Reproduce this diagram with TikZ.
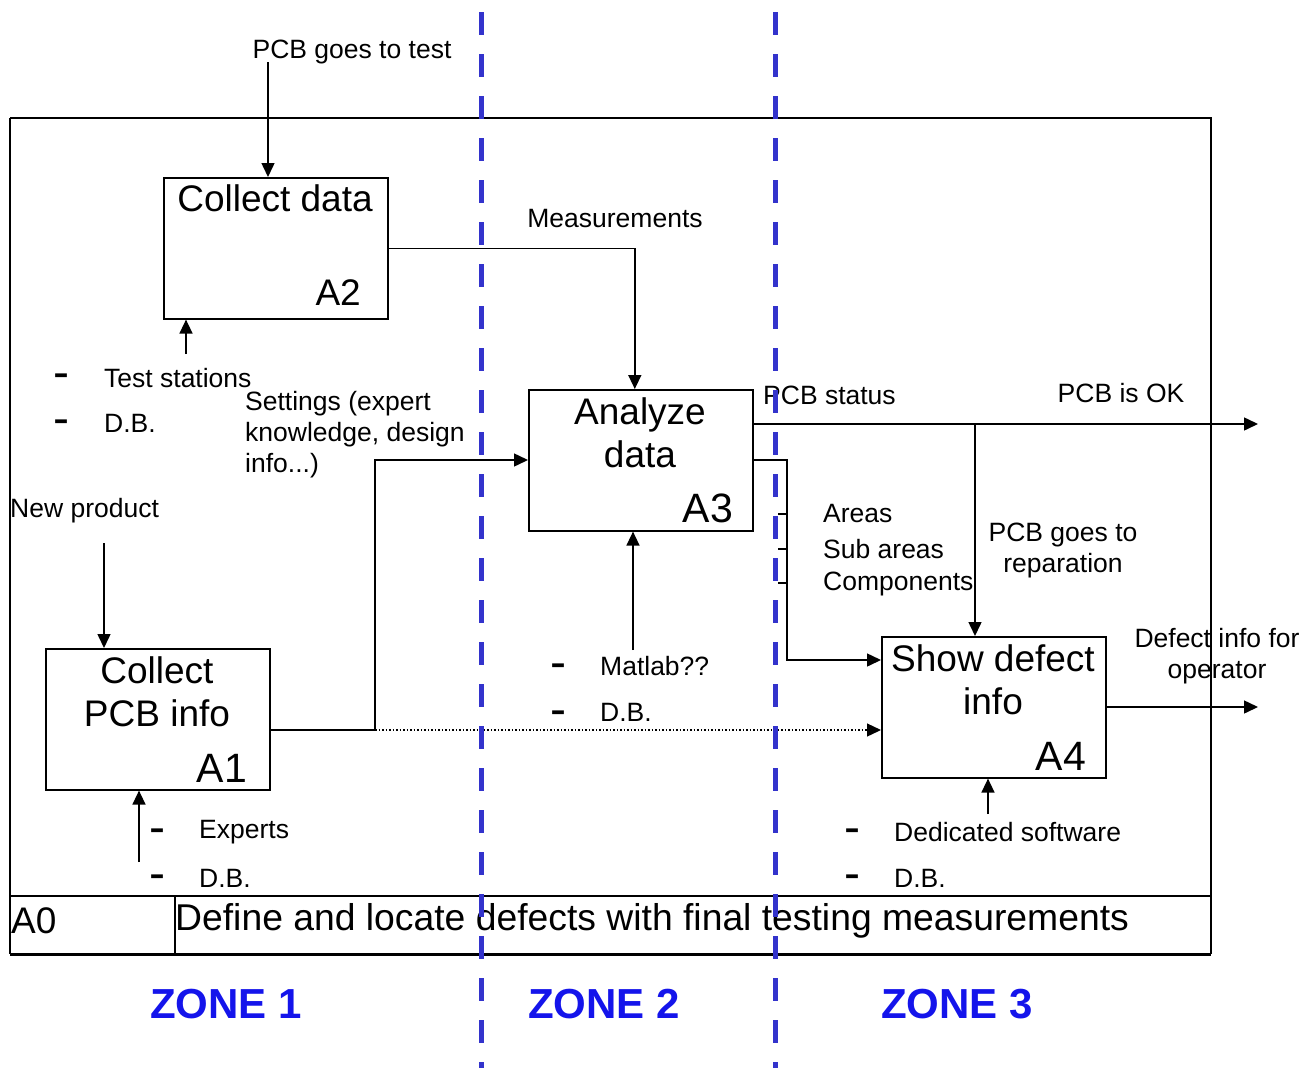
\documentclass[tikz,border=0pt]{standalone}
\usepackage{fontspec}
\setmainfont{Liberation Sans}
\usetikzlibrary{arrows.meta,calc}
\definecolor{zoneline}{RGB}{51,51,204}
\definecolor{zonetext}{RGB}{20,20,235}
\begin{document}
\begin{tikzpicture}[x=1pt,y=-1pt,
  box/.style={draw,line width=1.6pt,rectangle,minimum width=224pt,minimum height=141pt,anchor=north west,inner sep=0pt},
  conn/.style={line width=1.5pt},
  arr/.style={conn,-{Triangle[length=14pt,width=13pt]}},
  small/.style={font=\fontsize{26.5}{31}\selectfont,inner sep=0pt},
  big/.style={font=\fontsize{37}{43}\selectfont,inner sep=0pt},
  bignum/.style={font=\fontsize{41}{47}\selectfont,inner sep=0pt},
  bul/.style={font=\fontsize{48}{52}\selectfont,inner sep=0pt,anchor=base west},
  zone/.style={font=\fontsize{42}{48}\selectfont\bfseries,text=zonetext,inner sep=0pt},
  zonedash/.style={draw=zoneline,line width=5pt,dash pattern=on 23pt off 19pt}
]
\useasboundingbox (0,0) rectangle (1315,1068);

% frame
\draw[line width=1.6pt] (10,118) -- (1211,118) -- (1211,954);
\draw[line width=1.6pt] (10,118) -- (10,954);
\draw[line width=3pt] (10,954) -- (1211,954);
\draw[line width=1.6pt] (10,896) -- (1211,896);
\draw[line width=1.6pt] (175,896) -- (175,954);

% boxes
\node[box] (a2) at (163,177) {};
\node[box] (a3) at (528,389) {};
\node[box] (a1) at (45,648) {};
\node[box] (a4) at (881,636) {};

% box texts
\node[big] (t2) at (275,198) {Collect data};
\node[big,anchor=east] (n2) at (361,293) {A2};
\node[big,align=center] (t3) at (640,433) {Analyze\\data};
\node[bignum,anchor=east] (n3) at (733,508) {A3};
\node[big,align=center] (t1) at (157,692) {Collect\\PCB info};
\node[bignum,anchor=east] (n1) at (247,768) {A1};
\node[big,align=center] (t4) at (993,680) {Show defect\\info};
\node[bignum,anchor=east] (n4) at (1086,756) {A4};

% A2 input
\coordinate (in2) at (268,62);
\node[small] (l-test) at (352,52) {PCB goes to test};
\draw[arr] (in2) -- (in2 |- a2.north);

% A2 mechanism
\coordinate (m2) at (186,354);
\draw[arr] (m2) -- (m2 |- a2.south);
\node[bul] (d21) at (53,388) {-};
\node[small,anchor=west] (l21) at (104,378) {Test stations};
\node[bul] (d22) at (53,434) {-};
\node[small,anchor=west] (l22) at (104,423) {D.B.};

% Measurements
\draw[arr] (a2.east) -| ([xshift=-6pt]a3.north);
\node[small] (l-meas) at (615,219) {Measurements};

% Settings
\coordinate (j1) at (375,730);
\draw[conn] (a1.east |- j1) -- (j1);
\draw[arr] (j1) |- (a3.west |- 0,460);
\node[small,anchor=north west,align=left] (l-set) at (245,391) {Settings (expert\\knowledge, design\\info...)};
\draw[arr,dotted,line width=1.3pt] (j1) -- (a4.west |- j1);

% A1 input
\coordinate (in1) at (104,543);
\draw[arr] (in1) -- (in1 |- a1.north);
\node[small,anchor=west] (l-new) at (10,511) {New product};

% A1 mechanism
\coordinate (m1) at (139,862);
\draw[arr] (m1) -- (m1 |- a1.south);
\node[bul] (d11) at (149,843) {-};
\node[small,anchor=west] (l11) at (199,832) {Experts};
\node[bul] (d12) at (149,889) {-};
\node[small,anchor=west] (l12) at (199,878) {D.B.};

% A3 mechanism
\coordinate (m3) at (633,650);
\draw[arr] (m3) -- (m3 |- a3.south);
\node[bul] (d31) at (550,678) {-};
\node[small,anchor=west] (l31) at (600,666) {Matlab??};
\node[bul] (d32) at (550,725) {-};
\node[small,anchor=west] (l32) at (600,712) {D.B.};

% PCB status
\coordinate (out1) at (1258,424);
\coordinate (br) at (975,424);
\draw[arr] (a3.east |- out1) -- (out1);
\draw[arr] (br) -- (br |- a4.north);
\node[small,anchor=west] (l-stat) at (763,395) {PCB status};
\node[small] (l-ok) at (1121,393) {PCB is OK};
\node[small,align=center] (l-rep) at (1063,550) {PCB goes to\\reparation};

% A3 -> A4 details
\coordinate (k1) at (787,460);
\draw[arr] (a3.east |- k1) -- (k1) |- (a4.west |- 0,660);
\draw[conn] (778,514) -- (787,514);
\draw[conn] (778,549) -- (787,549);
\draw[conn] (778,583) -- (787,583);
\node[small,anchor=west] (l-ar) at (823,514) {Areas};
\node[small,anchor=west] (l-sa) at (823,549) {Sub areas};
\node[small,anchor=west] (l-co) at (823,584) {Components};

% A4 output
\coordinate (out2) at (1258,707);
\draw[arr] (a4.east |- out2) -- (out2);
\node[small,align=center] (l-def) at (1217,656) {Defect info for\\operator};

% A4 mechanism
\coordinate (m4) at (988,814);
\draw[arr] (m4) -- (m4 |- a4.south);
\node[bul] (d41) at (844,843) {-};
\node[small,anchor=west] (l41) at (894,832) {Dedicated software};
\node[bul] (d42) at (844,889) {-};
\node[small,anchor=west] (l42) at (894,878) {D.B.};

% title
\node[big,anchor=west] (a0) at (11,921) {A0};
\node[big,anchor=west,font=\fontsize{37.3}{43}\selectfont] (title) at (175,921) {Define and locate defects with final testing measurements};

% zone lines
\draw[zonedash] (481,12) -- (481,1068);
\draw[zonedash] (775,12) -- (775,1068);

% zones
\node[zone] (z1) at (226,1004) {ZONE 1};
\node[zone] (z2) at (604,1004) {ZONE 2};
\node[zone] (z3) at (957,1004) {ZONE 3};
\end{tikzpicture}
\end{document}
